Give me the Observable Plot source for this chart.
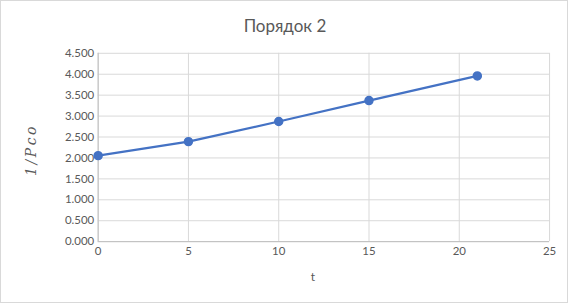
<!DOCTYPE html>
<html><head><meta charset="utf-8">
<script src="https://cdn.jsdelivr.net/npm/d3@7"></script>
<script src="https://cdn.jsdelivr.net/npm/@observablehq/plot@0.6"></script>
<style>
body{margin:0;background:#fff;}
#chart{position:relative;width:568px;height:303px;box-sizing:border-box;border:1px solid #d9d9d9;background:#fff;overflow:hidden;}
#chart svg{position:absolute;left:-1px;top:-1px;}
.lbl{position:absolute;color:#595959;white-space:nowrap;}
#title{left:0;width:568px;top:14px;text-align:center;font:17px Lato, "Open Sans", sans-serif;}
#ylab{left:30px;top:149px;transform:translate(-50%,-50%) rotate(-90deg);font:italic 14px "DejaVu Serif", "Liberation Serif", serif;letter-spacing:2.5px;}
#xlab{left:312px;top:275px;transform:translate(-50%,-50%);font:12px Lato, sans-serif;}
</style></head>
<body>
<div id="chart">
  <div class="lbl" id="title">Порядок 2</div>
  <div class="lbl" id="ylab">1/Pco</div>
  <div class="lbl" id="xlab">t</div>
</div>
<script>
const tValues = [0, 5, 10, 15, 21];
const invP = [2.055, 2.39, 2.87, 3.37, 3.96];
const xTicks = [0, 5, 10, 15, 20, 25];
const yTicks = [0, 0.5, 1, 1.5, 2, 2.5, 3, 3.5, 4, 4.5];

const data = tValues.map((t, i) => ({t, v: invP[i]}));
const fmt = d3.format(".3f");
const blue = "#4472c4";

const plot = Plot.plot({
  width: 568, height: 303,
  marginLeft: 98, marginRight: 17, marginTop: 53, marginBottom: 61,
  style: {fontFamily: "Lato, sans-serif", fontSize: "11.5px", color: "#595959", background: "transparent"},
  x: {domain: [0, 25], ticks: xTicks},
  y: {domain: [0, 4.5], ticks: yTicks},
  marks: [
    Plot.gridX(xTicks, {stroke: "#d9d9d9", strokeOpacity: 1, strokeWidth: 1}),
    Plot.gridY(yTicks, {stroke: "#d9d9d9", strokeOpacity: 1, strokeWidth: 1}),
    Plot.ruleX([0], {stroke: "#bfbfbf", strokeWidth: 1}),
    Plot.ruleY([0], {stroke: "#bfbfbf", strokeWidth: 1}),
    Plot.axisX(xTicks, {tickSize: 0, tickPadding: 5, label: null, fill: "#595959"}),
    Plot.axisY(yTicks, {tickSize: 0, tickPadding: 4, tickFormat: fmt, label: null, fill: "#595959"}),
    Plot.line(data, {x: "t", y: "v", stroke: blue, strokeWidth: 2.2}),
    Plot.dot(data, {x: "t", y: "v", fill: blue, stroke: blue, r: 4})
  ]
});
document.getElementById("chart").appendChild(plot);
</script>
</body></html>
